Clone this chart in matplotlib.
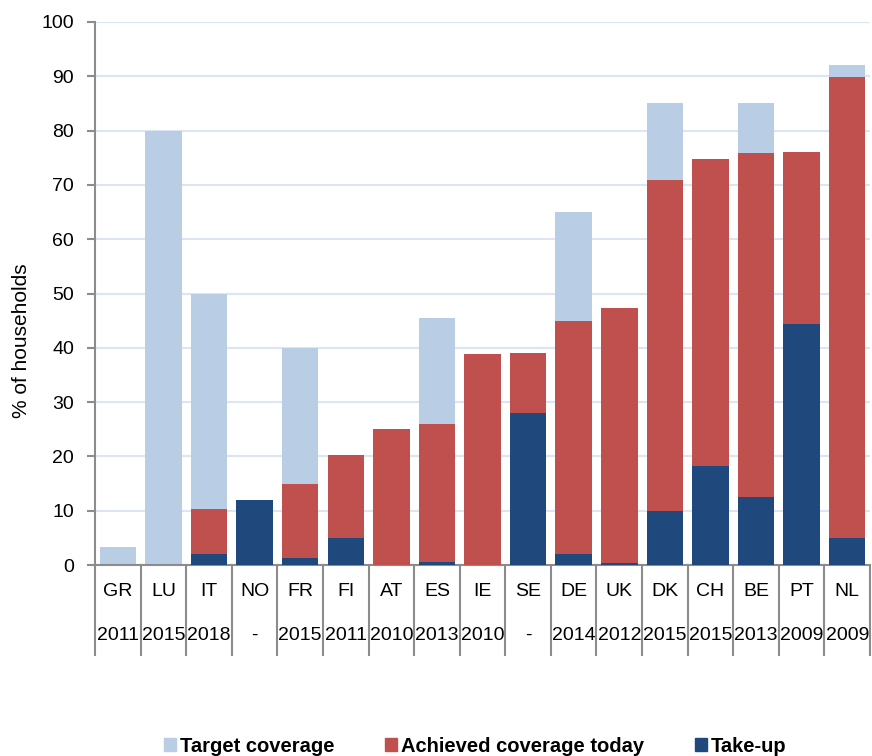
import matplotlib
matplotlib.use("Agg")
import matplotlib.pyplot as plt
import numpy as np
from matplotlib.patches import Patch

plt.rcParams['font.family'] = ['Liberation Sans', 'DejaVu Sans']

countries = ['GR', 'LU', 'IT', 'NO', 'FR', 'FI', 'AT', 'ES', 'IE', 'SE',
             'DE', 'UK', 'DK', 'CH', 'BE', 'PT', 'NL']
years = ['2011', '2015', '2018', '-', '2015', '2011', '2010', '2013', '2010', '-',
         '2014', '2012', '2015', '2015', '2013', '2009', '2009']
target = [3.3, 80, 50, 0, 40, 0, 0, 45.4, 0, 0, 65, 0, 85, 0, 85, 0, 92]
achieved = [0, 0, 10.4, 12, 15, 20.3, 25, 26, 38.9, 39, 44.9, 47.4, 70.9, 74.8, 75.8, 76, 89.8]
take_up = [0, 0, 2, 12, 1.2, 4.9, 0, 0.5, 0, 28, 2, 0.4, 10, 18.3, 12.5, 44.3, 5]

c_target = '#B9CDE5'
c_achieved = '#C0504D'
c_take = '#1F497D'
gray = '#8C8C8C'

dpi = 100
fig = plt.figure(figsize=(872/dpi, 756/dpi), dpi=dpi)
ax = fig.add_axes([95/872, 1 - 565/756, 775/872, 543/756])

x = np.arange(len(countries))
w = 0.8
ax.bar(x, target, width=w, color=c_target, zorder=2)
ax.bar(x, achieved, width=w, color=c_achieved, zorder=3)
ax.bar(x, take_up, width=w, color=c_take, zorder=4)

ax.set_xlim(-0.5, len(countries) - 0.5)
ax.set_ylim(0, 100)
ax.set_yticks(range(0, 101, 10))
ax.yaxis.grid(True, color='#DCE6F2', linewidth=1.5, zorder=0)
ax.set_axisbelow(True)
for s in ['top', 'right']:
    ax.spines[s].set_visible(False)
for s in ['left', 'bottom']:
    ax.spines[s].set_color(gray)
    ax.spines[s].set_linewidth(1.5)
ax.tick_params(axis='y', length=6, width=1.5, color=gray, labelsize=14, pad=9)
ax.tick_params(axis='x', bottom=False, labelbottom=False)
ax.set_ylabel('% of households', fontsize=15)
ax.yaxis.set_label_coords(-0.082, 0.414)

# table of country codes and years under the axis
trans = ax.get_xaxis_transform()
y_bot = -90/543
for b in np.arange(-0.5, len(countries)):
    ax.plot([b, b], [0, y_bot], transform=trans, color=gray, lw=1.5, clip_on=False)
for i, (c, yr) in enumerate(zip(countries, years)):
    ax.text(i, -27/543, c, transform=trans, ha='center', va='center', fontsize=14)
    ax.text(i, -70/543, yr, transform=trans, ha='center', va='center', fontsize=14)

handles = [Patch(color=c_target, label='Target coverage'),
           Patch(color=c_achieved, label='Achieved coverage today'),
           Patch(color=c_take, label='Take-up')]
fig.legend(handles=handles, loc='center', bbox_to_anchor=(0.545, 10/756), ncol=3,
           frameon=False, handlelength=0.6, handleheight=0.6, handletextpad=0.2,
           columnspacing=2.5, prop={'size': 14.5, 'weight': 'bold'})

fig.savefig('out.png', dpi=dpi)
